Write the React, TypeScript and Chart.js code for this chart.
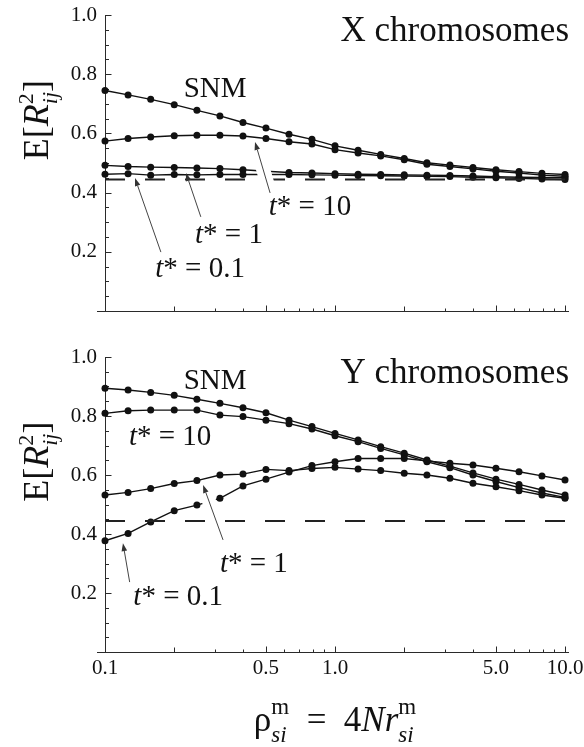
import React, { useEffect, useRef } from "react";
import { Chart, registerables } from "chart.js";

Chart.register(...registerables);

// ---------- data ----------
const rho = [0.1, 0.126, 0.158, 0.2, 0.251, 0.316, 0.398, 0.501, 0.631, 0.794, 1.0, 1.26, 1.58, 2.0, 2.51, 3.16, 3.98, 5.01, 6.31, 7.94, 10.0];

const xTickValues = [0.1, 0.5, 1, 5, 10];
const xMidTicks = [0.2, 2];
const xMinorTicks = [0.3, 0.4, 0.6, 0.7, 0.8, 0.9, 3, 4, 6, 7, 8, 9];
const yTickValues = [0.2, 0.4, 0.6, 0.8, 1.0];
const yMinorTicks = [0.05, 0.1, 0.15, 0.25, 0.3, 0.35, 0.45, 0.5, 0.55, 0.65, 0.7, 0.75, 0.85, 0.9, 0.95];

const equilibrium = 0.444;

// X chromosomes
const snmX = [0.745, 0.730, 0.715, 0.697, 0.678, 0.659, 0.637, 0.618, 0.597, 0.580, 0.558, 0.543, 0.529, 0.515, 0.501, 0.493, 0.485, 0.477, 0.471, 0.465, 0.461];
const t10X = [0.574, 0.583, 0.588, 0.592, 0.594, 0.594, 0.591, 0.583, 0.572, 0.564, 0.545, 0.534, 0.524, 0.511, 0.496, 0.488, 0.480, 0.472, 0.466, 0.459, 0.455];
const t1X = [0.492, 0.488, 0.486, 0.485, 0.483, 0.481, 0.477, 0.472, 0.468, 0.466, 0.464, 0.462, 0.461, 0.460, 0.459, 0.458, 0.456, 0.454, 0.452, 0.451, 0.450];
const t01X = [0.462, 0.464, 0.459, 0.461, 0.460, 0.461, 0.461, 0.461, 0.461, 0.460, 0.459, 0.458, 0.457, 0.456, 0.455, 0.454, 0.452, 0.450, 0.448, 0.446, 0.444];

// Y chromosomes
const snmY = [0.894, 0.888, 0.880, 0.870, 0.857, 0.843, 0.828, 0.811, 0.786, 0.764, 0.741, 0.719, 0.696, 0.674, 0.651, 0.630, 0.607, 0.586, 0.568, 0.549, 0.532];
const t10Y = [0.809, 0.818, 0.820, 0.820, 0.820, 0.803, 0.798, 0.786, 0.774, 0.756, 0.733, 0.713, 0.690, 0.668, 0.645, 0.625, 0.600, 0.578, 0.557, 0.539, 0.524];
const t1Y = [0.532, 0.541, 0.554, 0.571, 0.581, 0.600, 0.603, 0.619, 0.615, 0.622, 0.626, 0.620, 0.615, 0.606, 0.600, 0.589, 0.572, 0.560, 0.547, 0.532, 0.521];
const t01Y = [0.377, 0.402, 0.441, 0.479, 0.498, 0.521, 0.563, 0.586, 0.610, 0.632, 0.645, 0.656, 0.656, 0.656, 0.648, 0.640, 0.634, 0.623, 0.611, 0.597, 0.583];

// ---------- text helpers ----------
const FAM = '"Liberation Serif", "Times New Roman", serif';
type Piece = { t: string; it?: boolean; s?: number; dy?: number; stack?: boolean };

function drawRich(ctx: CanvasRenderingContext2D, pieces: Piece[], x: number, y: number, size: number, align: "left" | "center" | "right") {
  const font = (p: Piece) => `${p.it ? "italic " : ""}${Math.round(size * (p.s ?? 1))}px ${FAM}`;
  let cx = 0, prevStart = 0, prevW = 0;
  const items: { p: Piece; x: number }[] = [];
  for (const p of pieces) {
    ctx.font = font(p);
    const w = ctx.measureText(p.t).width;
    if (p.stack) {
      items.push({ p, x: prevStart });
      prevW = Math.max(prevW, w);
      cx = prevStart + prevW;
    } else {
      items.push({ p, x: cx });
      prevStart = cx; prevW = w; cx += w;
    }
  }
  const x0 = align === "center" ? x - cx / 2 : align === "right" ? x - cx : x;
  ctx.textAlign = "left";
  ctx.textBaseline = "alphabetic";
  for (const it of items) {
    ctx.font = font(it.p);
    ctx.fillText(it.p.t, x0 + it.x, y + (it.p.dy ?? 0) * size);
  }
}

const tstar = (rest: string): Piece[] => [{ t: "t", it: true }, { t: "* = " + rest }];

type Label = { pieces: Piece[]; x: number; y: number; size: number };
type Arrow = { from: [number, number]; to: [number, number]; halo?: [number, number] };
type Panel = {
  title: string;
  snm: number[]; t10: number[]; t1: number[]; t01: number[];
  labels: Label[];
  arrows: Arrow[];
  xLabels: boolean;
  height: number;
  top: number;
  bottom: number;
};

const panels: Panel[] = [
  {
    title: "X chromosomes",
    snm: snmX, t10: t10X, t1: t1X, t01: t01X,
    labels: [
      { pieces: [{ t: "SNM" }], x: 0.301, y: 0.723, size: 29 },
      { pieces: tstar("10"), x: 0.778, y: 0.324, size: 29 },
      { pieces: tstar("1"), x: 0.346, y: 0.230, size: 29 },
      { pieces: tstar("0.1"), x: 0.259, y: 0.115, size: 29 },
    ],
    arrows: [
      { from: [0.522, 0.399], to: [0.449, 0.571], halo: [0.12, 0.7] },
      { from: [0.261, 0.318], to: [0.225, 0.466] },
      { from: [0.175, 0.199], to: [0.135, 0.449] },
    ],
    xLabels: false,
    height: 340,
    top: 15,
    bottom: 311,
  },
  {
    title: "Y chromosomes",
    snm: snmY, t10: t10Y, t1: t1Y, t01: t01Y,
    labels: [
      { pieces: [{ t: "SNM" }], x: 0.301, y: 0.892, size: 29 },
      { pieces: tstar("10"), x: 0.192, y: 0.702, size: 29 },
      { pieces: tstar("1"), x: 0.444, y: 0.271, size: 29 },
      { pieces: tstar("0.1"), x: 0.208, y: 0.16, size: 29 },
    ],
    arrows: [
      { from: [0.326, 0.380], to: [0.267, 0.566], halo: [0.12, 0.78] },
      { from: [0.128, 0.237], to: [0.1197, 0.369] },
    ],
    xLabels: true,
    height: 407,
    top: 17,
    bottom: 312,
  },
];

function makeChart(canvas: HTMLCanvasElement, panel: Panel) {
  const series = (vals: number[]) => ({
    data: rho.map((x, i) => ({ x, y: vals[i] })),
    borderColor: "#111",
    backgroundColor: "#111",
    borderWidth: 1.4,
    pointRadius: 3.5,
    pointHoverRadius: 3.5,
    pointBorderWidth: 0,
    tension: 0,
    clip: false as const,
  });
  const dashed = {
    data: [{ x: 0.1, y: equilibrium }, { x: 10, y: equilibrium }],
    borderColor: "#222",
    borderWidth: 2,
    borderDash: [20, 20],
    pointRadius: 0,
    clip: false as const,
  };

  const decor = {
    id: "decor",
    beforeDatasetsDraw(chart: any) {
      const { ctx, chartArea: ca, scales } = chart;
      const x = scales.x, y = scales.y;
      ctx.save();
      ctx.strokeStyle = "#2a2a2a";
      ctx.lineWidth = 1;
      const bx = Math.round(ca.left) + 0.5;
      const by = Math.round(ca.bottom) + 0.5;
      ctx.beginPath();
      ctx.moveTo(bx, y.getPixelForValue(1));
      ctx.lineTo(bx, by);
      ctx.moveTo(ca.left - 8, by);
      ctx.lineTo(ca.right + 4, by);
      for (const v of yTickValues) {
        const p = Math.round(y.getPixelForValue(v)) + 0.5;
        ctx.moveTo(bx, p); ctx.lineTo(bx + 6, p);
      }
      for (const v of yMinorTicks) {
        const p = Math.round(y.getPixelForValue(v)) + 0.5;
        ctx.moveTo(bx, p); ctx.lineTo(bx + 3.5, p);
      }
      for (const v of xTickValues) {
        const p = Math.round(x.getPixelForValue(v)) + 0.5;
        ctx.moveTo(p, by); ctx.lineTo(p, by - 6);
      }
      for (const v of xMidTicks) {
        const p = Math.round(x.getPixelForValue(v)) + 0.5;
        ctx.moveTo(p, by); ctx.lineTo(p, by - 5);
      }
      for (const v of xMinorTicks) {
        const p = Math.round(x.getPixelForValue(v)) + 0.5;
        ctx.moveTo(p, by); ctx.lineTo(p, by - 3);
      }
      ctx.stroke();
      ctx.restore();
    },
    afterDatasetsDraw(chart: any) {
      const { ctx, chartArea: ca, scales } = chart;
      const x = scales.x, y = scales.y;
      ctx.save();
      // arrows
      for (const a of panel.arrows) {
        const x0 = x.getPixelForValue(a.from[0]), y0 = y.getPixelForValue(a.from[1]);
        const x1 = x.getPixelForValue(a.to[0]), y1 = y.getPixelForValue(a.to[1]);
        if (a.halo) {
          const [h0, h1] = a.halo;
          ctx.strokeStyle = "#fff";
          ctx.lineWidth = 14;
          ctx.lineCap = "butt";
          ctx.beginPath();
          ctx.moveTo(x0 + (x1 - x0) * h0, y0 + (y1 - y0) * h0);
          ctx.lineTo(x0 + (x1 - x0) * h1, y0 + (y1 - y0) * h1);
          ctx.stroke();
        }
        const ang = Math.atan2(y1 - y0, x1 - x0);
        const hl = 8, hw = 2.8;
        const bxh = x1 - hl * Math.cos(ang), byh = y1 - hl * Math.sin(ang);
        ctx.strokeStyle = "#444";
        ctx.lineWidth = 1;
        ctx.beginPath();
        ctx.moveTo(x0, y0);
        ctx.lineTo(bxh, byh);
        ctx.stroke();
        ctx.fillStyle = "#333";
        ctx.beginPath();
        ctx.moveTo(x1, y1);
        ctx.lineTo(bxh + hw * Math.sin(ang), byh - hw * Math.cos(ang));
        ctx.lineTo(bxh - hw * Math.sin(ang), byh + hw * Math.cos(ang));
        ctx.closePath();
        ctx.fill();
      }
      // labels
      ctx.fillStyle = "#111";
      for (const l of panel.labels) {
        drawRich(ctx, l.pieces, x.getPixelForValue(l.x), y.getPixelForValue(l.y), l.size, "center");
      }
      // panel title
      drawRich(ctx, [{ t: panel.title }], ca.right + 4, ca.top + 26, 35, "right");
      // y axis title
      ctx.save();
      ctx.translate(36, y.getPixelForValue(0.645));
      ctx.rotate(-Math.PI / 2);
      drawRich(ctx, [
        { t: "E[" },
        { t: "R", it: true },
        { t: "2", s: 0.62, dy: -0.42 },
        { t: "ij", it: true, s: 0.62, dy: 0.26, stack: true },
        { t: "]" },
      ], 0, 12, 36, "center");
      ctx.restore();
      // x axis title
      if (panel.xLabels) {
        drawRich(ctx, [
          { t: "ρ" },
          { t: "m", s: 0.65, dy: -0.5 },
          { t: "si", it: true, s: 0.65, dy: 0.3, stack: true },
          { t: "  =  " },
          { t: "4" },
          { t: "N", it: true },
          { t: "r", it: true },
          { t: "m", s: 0.65, dy: -0.5 },
          { t: "si", it: true, s: 0.65, dy: 0.3, stack: true },
        ], (ca.left + ca.right) / 2, 391, 35, "center");
      }
      ctx.restore();
    },
  };

  const xH = panel.height - panel.bottom;
  return new Chart(canvas, {
    type: "line",
    data: {
      datasets: [dashed, series(panel.t01), series(panel.t1), series(panel.t10), series(panel.snm)] as any,
    },
    options: {
      animation: false,
      responsive: false,
      events: [],
      layout: { padding: { left: 0, right: 19, top: panel.top, bottom: 0 } },
      plugins: { legend: { display: false }, tooltip: { enabled: false } },
      scales: {
        x: {
          type: "logarithmic",
          min: 0.1,
          max: 10,
          grid: { display: false, drawTicks: false },
          border: { display: false },
          afterBuildTicks: (s: any) => { s.ticks = xTickValues.map((v) => ({ value: v })); },
          afterFit: (s: any) => { s.height = xH; s.paddingLeft = 0; s.paddingRight = 0; },
          ticks: {
            display: panel.xLabels,
            autoSkip: false,
            maxRotation: 0,
            padding: 4,
            color: "#111",
            font: { family: FAM, size: 21 },
            callback: (v: any) => Number(v).toFixed(1),
          },
        },
        y: {
          min: 0,
          max: 1,
          grid: { display: false, drawTicks: false },
          border: { display: false },
          afterBuildTicks: (s: any) => { s.ticks = yTickValues.map((v) => ({ value: v })); },
          afterFit: (s: any) => { s.width = 105; s.paddingTop = 0; s.paddingBottom = 0; },
          ticks: {
            padding: 8,
            color: "#111",
            font: { family: FAM, size: 21 },
            callback: (v: any) => Number(v).toFixed(1),
          },
        },
      },
    },
    plugins: [decor],
  });
}

function PanelChart({ panel }: { panel: Panel }) {
  const ref = useRef<HTMLCanvasElement>(null);
  useEffect(() => {
    if (!ref.current) return;
    const c = makeChart(ref.current, panel);
    return () => c.destroy();
  }, [panel]);
  return <canvas ref={ref} width={584} height={panel.height} style={{ display: "block", width: 584, height: panel.height }} />;
}

export default function App() {
  return (
    <div style={{ position: "absolute", left: 0, top: 0, width: 584, height: 747, background: "#fff" }}>
      {panels.map((p) => (
        <PanelChart key={p.title} panel={p} />
      ))}
    </div>
  );
}
